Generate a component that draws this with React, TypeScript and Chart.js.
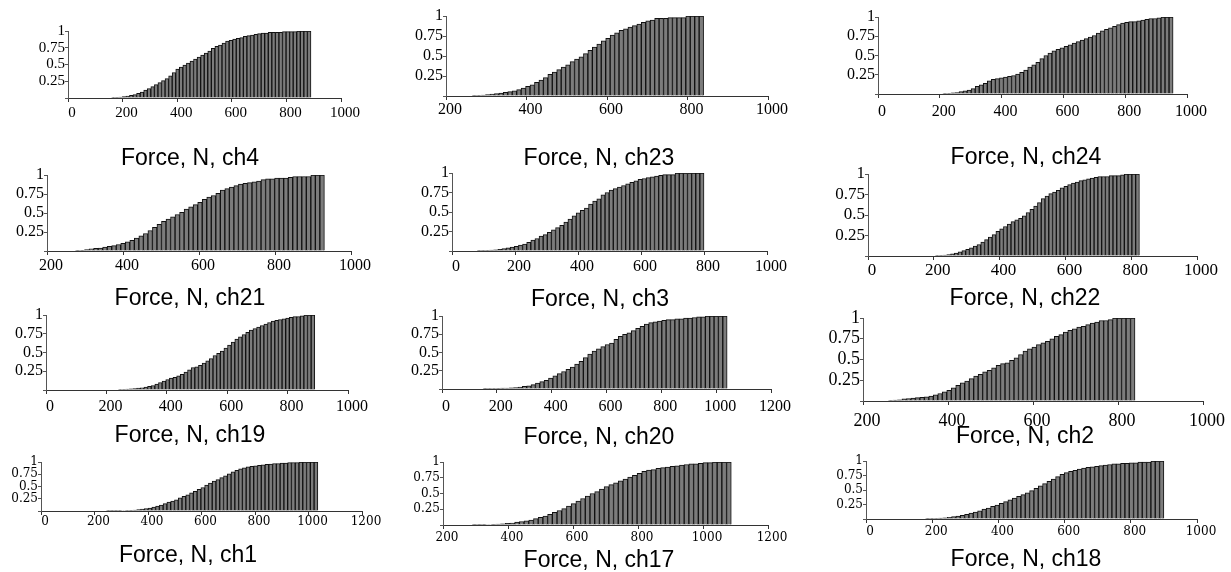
import React, { useEffect, useRef } from "react";
import { Chart, registerables } from "chart.js";

Chart.register(...registerables);

// ---------- DATA (cumulative relative frequency per force bin) ----------
const ch4Values = [
  0.005, 0.01, 0.015, 0.02, 0.03, 0.04, 0.05, 0.07, 0.09, 0.12,
  0.14, 0.17, 0.2, 0.23, 0.26, 0.29, 0.33, 0.38, 0.43, 0.46,
  0.49, 0.52, 0.55, 0.58, 0.61, 0.64, 0.67, 0.7, 0.74, 0.77,
  0.79, 0.82, 0.85, 0.86, 0.88, 0.89, 0.9, 0.92, 0.93, 0.94,
  0.95, 0.96, 0.97, 0.97, 0.98, 0.98, 0.98, 0.98, 0.99, 0.99,
  0.99, 0.99, 1, 1, 1, 1,
];
const ch23Values = [
  0.005, 0.008, 0.012, 0.018, 0.025, 0.03, 0.035, 0.045, 0.055, 0.065,
  0.08, 0.1, 0.12, 0.14, 0.17, 0.2, 0.23, 0.27, 0.3, 0.33,
  0.36, 0.39, 0.43, 0.46, 0.49, 0.53, 0.57, 0.61, 0.65, 0.69,
  0.72, 0.76, 0.79, 0.82, 0.84, 0.86, 0.88, 0.9, 0.92, 0.94,
  0.95, 0.97, 0.97, 0.97, 0.98, 0.98, 0.98, 0.98, 1, 1,
  1, 1,
];
const ch24Values = [
  0.005, 0.01, 0.015, 0.02, 0.03, 0.04, 0.05, 0.07, 0.1, 0.12,
  0.14, 0.17, 0.19, 0.2, 0.21, 0.22, 0.23, 0.24, 0.26, 0.28,
  0.31, 0.35, 0.38, 0.41, 0.46, 0.5, 0.53, 0.56, 0.58, 0.6,
  0.62, 0.64, 0.66, 0.68, 0.7, 0.72, 0.74, 0.76, 0.79, 0.82,
  0.84, 0.86, 0.88, 0.9, 0.92, 0.93, 0.94, 0.94, 0.95, 0.96,
  0.97, 0.98, 0.98, 0.99, 1, 1, 1,
];
const ch21Values = [
  0.005, 0.01, 0.02, 0.03, 0.035, 0.04, 0.05, 0.06, 0.07, 0.085,
  0.1, 0.12, 0.14, 0.17, 0.2, 0.23, 0.27, 0.31, 0.35, 0.39,
  0.42, 0.45, 0.48, 0.51, 0.55, 0.58, 0.61, 0.64, 0.68, 0.71,
  0.73, 0.76, 0.8, 0.82, 0.84, 0.86, 0.88, 0.89, 0.9, 0.91,
  0.92, 0.94, 0.95, 0.95, 0.96, 0.96, 0.96, 0.97, 0.98, 0.98,
  0.98, 0.98, 1, 1, 1,
];
const ch3Values = [
  0.003, 0.005, 0.008, 0.012, 0.015, 0.02, 0.03, 0.04, 0.05, 0.06,
  0.075, 0.09, 0.11, 0.14, 0.16, 0.19, 0.21, 0.24, 0.27, 0.3,
  0.33, 0.37, 0.41, 0.45, 0.49, 0.52, 0.55, 0.6, 0.64, 0.67,
  0.72, 0.75, 0.78, 0.8, 0.82, 0.84, 0.86, 0.88, 0.9, 0.92,
  0.93, 0.94, 0.95, 0.96, 0.97, 0.98, 0.98, 0.98, 1, 1,
  1, 1, 1, 1, 1,
];
const ch22Values = [
  0.005, 0.008, 0.012, 0.018, 0.025, 0.035, 0.05, 0.065, 0.08, 0.1,
  0.12, 0.14, 0.17, 0.2, 0.23, 0.26, 0.3, 0.33, 0.36, 0.39,
  0.42, 0.44, 0.46, 0.49, 0.53, 0.57, 0.61, 0.65, 0.7, 0.73,
  0.76, 0.78, 0.8, 0.83, 0.85, 0.87, 0.89, 0.9, 0.92, 0.93,
  0.94, 0.95, 0.96, 0.97, 0.97, 0.97, 0.98, 0.98, 0.98, 0.99,
  1, 1, 1, 1,
];
const ch19Values = [
  0.005, 0.008, 0.012, 0.016, 0.02, 0.025, 0.03, 0.04, 0.05, 0.06,
  0.08, 0.1, 0.12, 0.14, 0.16, 0.17, 0.19, 0.21, 0.24, 0.27,
  0.3, 0.31, 0.33, 0.36, 0.39, 0.42, 0.46, 0.49, 0.52, 0.56,
  0.6, 0.64, 0.68, 0.71, 0.74, 0.77, 0.8, 0.82, 0.84, 0.86,
  0.88, 0.9, 0.92, 0.93, 0.94, 0.95, 0.96, 0.97, 0.98, 0.98,
  0.99, 1, 1, 1,
];
const ch20Values = [
  0.005, 0.006, 0.008, 0.01, 0.012, 0.014, 0.016, 0.02, 0.025, 0.035,
  0.045, 0.06, 0.08, 0.1, 0.12, 0.15, 0.18, 0.21, 0.24, 0.27,
  0.3, 0.34, 0.38, 0.43, 0.48, 0.52, 0.55, 0.58, 0.61, 0.63,
  0.68, 0.72, 0.75, 0.77, 0.8, 0.83, 0.86, 0.89, 0.91, 0.92,
  0.93, 0.94, 0.95, 0.95, 0.96, 0.96, 0.97, 0.97, 0.98, 0.99,
  0.99, 1, 1, 1, 1, 1,
];
const ch2Values = [
  0.005, 0.01, 0.015, 0.025, 0.03, 0.035, 0.04, 0.045, 0.05, 0.06,
  0.075, 0.09, 0.11, 0.13, 0.16, 0.19, 0.22, 0.24, 0.27, 0.3,
  0.32, 0.35, 0.37, 0.4, 0.43, 0.45, 0.46, 0.49, 0.52, 0.56,
  0.6, 0.63, 0.65, 0.68, 0.7, 0.72, 0.75, 0.78, 0.8, 0.83,
  0.85, 0.87, 0.89, 0.9, 0.92, 0.94, 0.95, 0.97, 0.97, 0.98,
  1, 1, 1, 1, 1,
];
const ch1Values = [
  0.003, 0.005, 0.006, 0.008, 0.01, 0.012, 0.015, 0.02, 0.03, 0.04,
  0.05, 0.06, 0.08, 0.1, 0.12, 0.15, 0.18, 0.2, 0.23, 0.27,
  0.3, 0.33, 0.37, 0.4, 0.44, 0.48, 0.53, 0.57, 0.61, 0.64,
  0.68, 0.72, 0.76, 0.8, 0.83, 0.86, 0.88, 0.9, 0.91, 0.92,
  0.93, 0.94, 0.95, 0.96, 0.97, 0.97, 0.98, 0.98, 0.99, 0.99,
  0.99, 1, 1, 1, 1, 1,
];
const ch17Values = [
  0.003, 0.005, 0.006, 0.008, 0.01, 0.015, 0.02, 0.025, 0.03, 0.045,
  0.055, 0.065, 0.08, 0.1, 0.12, 0.14, 0.17, 0.2, 0.23, 0.26,
  0.3, 0.34, 0.38, 0.42, 0.46, 0.5, 0.53, 0.57, 0.61, 0.64,
  0.67, 0.7, 0.73, 0.76, 0.79, 0.82, 0.85, 0.87, 0.88, 0.9,
  0.91, 0.92, 0.93, 0.94, 0.95, 0.96, 0.97, 0.97, 0.98, 0.99,
  0.99, 1, 1, 1, 1,
];
const ch18Values = [
  0.003, 0.006, 0.01, 0.015, 0.02, 0.03, 0.04, 0.05, 0.065, 0.08,
  0.1, 0.12, 0.14, 0.17, 0.19, 0.22, 0.24, 0.27, 0.3, 0.33,
  0.36, 0.39, 0.42, 0.45, 0.49, 0.53, 0.57, 0.61, 0.65, 0.69,
  0.73, 0.77, 0.8, 0.82, 0.84, 0.86, 0.88, 0.89, 0.9, 0.91,
  0.92, 0.93, 0.94, 0.95, 0.95, 0.96, 0.96, 0.97, 0.97, 0.98,
  0.98, 0.98, 1, 1, 1,
];

// Panels in reading order (row by row)
const channelNames = ["ch4", "ch23", "ch24", "ch21", "ch3", "ch22", "ch19", "ch20", "ch2", "ch1", "ch17", "ch18"];
const channelValues = [
  ch4Values, ch23Values, ch24Values, ch21Values, ch3Values, ch22Values,
  ch19Values, ch20Values, ch2Values, ch1Values, ch17Values, ch18Values,
];
// Force range covered by the bins (N)
const binStarts = [160, 265, 210, 275, 80, 205, 240, 150, 260, 245, 290, 180];
const binEnds = [890, 840, 955, 930, 800, 825, 890, 1040, 840, 1035, 1087, 900];
// Axis ranges (N)
const axisMins = [0, 200, 0, 200, 0, 0, 0, 0, 200, 0, 200, 0];
const axisMaxs = [1000, 1000, 1000, 1000, 1000, 1000, 1000, 1200, 1000, 1200, 1200, 1000];
const xTickStep = 200;
const yTickStep = 0.25;
const titlePrefix = "Force, N, ";

// ---------- LAYOUT (pixels) ----------
const SERIF = "'Liberation Serif', 'Times New Roman', serif";
const SERIF_WIDE = "'DejaVu Serif', serif";
const PANEL_BOXES = [
  { left: 68, right: 341, top: 31, base: 98, font: 15, pad: 2, family: SERIF },
  { left: 446, right: 768, top: 16, base: 96, font: 16, pad: 0, family: SERIF },
  { left: 878, right: 1187, top: 17, base: 94, font: 16, pad: 4, family: SERIF },
  { left: 47, right: 351, top: 175, base: 251, font: 16, pad: 1, family: SERIF },
  { left: 452, right: 767, top: 173, base: 251, font: 16, pad: 2, family: SERIF },
  { left: 868, right: 1197, top: 174, base: 256, font: 17, pad: 0, family: SERIF },
  { left: 46, right: 348, top: 315, base: 390, font: 16, pad: 3, family: SERIF },
  { left: 442, right: 771, top: 316, base: 389, font: 16, pad: 4, family: SERIF },
  { left: 863, right: 1203, top: 318, base: 401, font: 18, pad: 5, family: SERIF },
  { left: 41, right: 362, top: 462, base: 511, font: 12, pad: 0, family: SERIF_WIDE },
  { left: 443, right: 768, top: 462, base: 525, font: 12, pad: 2, family: SERIF_WIDE },
  { left: 866, right: 1197, top: 461, base: 519, font: 12, pad: 2, family: SERIF_WIDE },
];
// title (cap-centre) positions, same order as channelNames
const TITLE_POS = [
  { x: 190, y: 157 }, { x: 599, y: 157 }, { x: 1026, y: 156 },
  { x: 190, y: 297 }, { x: 600, y: 298 }, { x: 1025, y: 297 },
  { x: 190, y: 434 }, { x: 599, y: 436 }, { x: 1025, y: 435 },
  { x: 188, y: 554 }, { x: 599, y: 559 }, { x: 1026, y: 558 },
];

const W_Y = 50;
const PAD_T = 12;
const PAD_R = 30;
const H_X = 32;

function Panel({ idx }: { idx: number }) {
  const ref = useRef<HTMLCanvasElement>(null);
  const box = PANEL_BOXES[idx];
  const plotW = box.right - box.left;
  const plotH = box.base - box.top;
  const cw = W_Y + plotW + PAD_R;
  const chh = PAD_T + plotH + H_X;

  useEffect(() => {
    const values = channelValues[idx];
    const start = binStarts[idx];
    const end = binEnds[idx];
    const w = (end - start) / values.length;
    const data = values.map((v, i) => ({ x: start + w * (i + 0.5), y: v }));
    const font = { family: box.family, size: box.font };
    const chart = new Chart(ref.current as HTMLCanvasElement, {
      type: "bar",
      data: {
        datasets: [
          {
            data,
            backgroundColor: "#7c7c7c",
            borderColor: "#111111",
            borderWidth: 1,
            borderSkipped: "bottom",
            barPercentage: 1,
            categoryPercentage: 1,
          } as any,
        ],
      },
      options: {
        responsive: false,
        animation: false,
        devicePixelRatio: 1,
        layout: { padding: { left: 0, right: PAD_R, top: PAD_T, bottom: 0 } },
        plugins: {
          legend: { display: false },
          tooltip: { enabled: false },
          title: { display: false },
        },
        scales: {
          x: {
            type: "linear",
            min: axisMins[idx],
            max: axisMaxs[idx],
            offset: false,
            afterFit: (s: any) => {
              s.height = H_X;
            },
            grid: {
              display: true,
              drawOnChartArea: false,
              drawTicks: true,
              tickLength: 4,
              color: "#333",
              offset: false,
            },
            border: { display: true, color: "#333", width: 1 },
            ticks: {
              stepSize: xTickStep,
              autoSkip: false,
              maxRotation: 0,
              minRotation: 0,
              padding: box.pad,
              labelOffset: 4,
              color: "#000",
              font,
              callback: (v: any) => String(Number(v)),
            },
          },
          y: {
            type: "linear",
            min: 0,
            max: 1,
            afterFit: (s: any) => {
              s.width = W_Y;
            },
            grid: {
              display: true,
              drawOnChartArea: false,
              drawTicks: true,
              tickLength: 3,
              color: "#555",
            },
            border: { display: true, color: "#555", width: 1 },
            ticks: {
              stepSize: yTickStep,
              autoSkip: false,
              padding: 0,
              color: "#000",
              font,
              callback: (v: any) => (Number(v) === 0 ? "" : String(Number(v))),
            },
          },
        },
      } as any,
    });
    return () => chart.destroy();
  }, [idx]);

  return (
    <canvas
      ref={ref}
      width={cw}
      height={chh}
      style={{
        position: "absolute",
        left: box.left - W_Y,
        top: box.top - PAD_T,
        width: cw,
        height: chh,
      }}
    />
  );
}

export default function App() {
  return (
    <div
      style={{
        position: "absolute",
        left: 0,
        top: 0,
        width: 1231,
        height: 572,
        overflow: "hidden",
        background: "#ffffff",
      }}
    >
      {channelNames.map((_, i) => (
        <Panel key={"p" + i} idx={i} />
      ))}
      {channelNames.map((name, i) => (
        <div
          key={"t" + i}
          style={{
            position: "absolute",
            left: TITLE_POS[i].x - 150,
            top: TITLE_POS[i].y - 11,
            width: 300,
            textAlign: "center",
            fontFamily: "'Liberation Sans', Arial, sans-serif",
            fontSize: 23,
            lineHeight: "23px",
            color: "#000",
            whiteSpace: "nowrap",
          }}
        >
          {titlePrefix + name}
        </div>
      ))}
    </div>
  );
}
